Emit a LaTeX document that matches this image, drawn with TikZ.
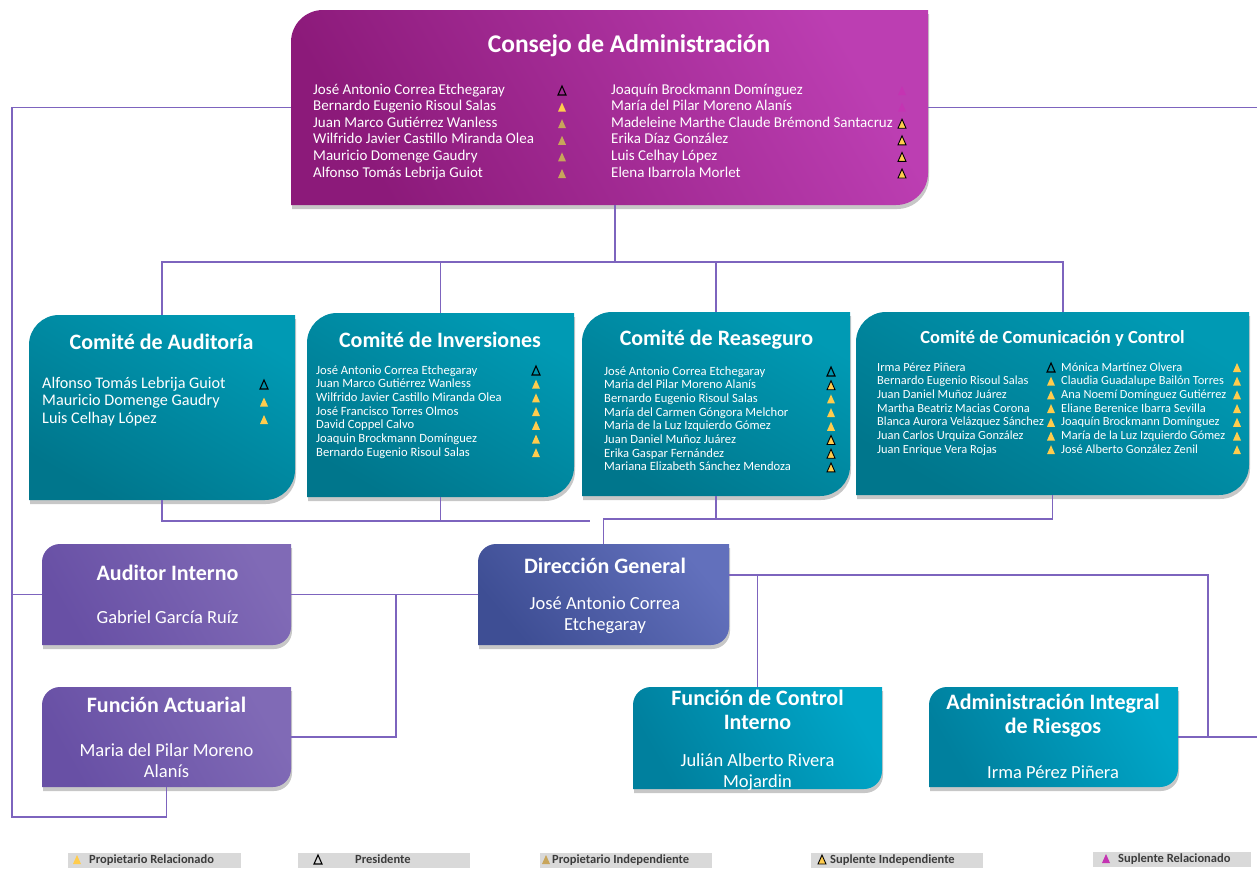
\documentclass[tikz,border=0pt]{standalone}
\usepackage{fontspec}
\setmainfont{Carlito}
\usetikzlibrary{calc}

\definecolor{conDark}{RGB}{140,26,122}
\definecolor{conLight}{RGB}{188,62,178}
\definecolor{tealDark}{RGB}{0,118,140}
\definecolor{tealLight}{RGB}{0,154,180}
\definecolor{violDark}{RGB}{104,80,165}
\definecolor{violLight}{RGB}{128,106,182}
\definecolor{blueDark}{RGB}{62,78,148}
\definecolor{blueLight}{RGB}{98,112,188}
\definecolor{cyanDark}{RGB}{0,128,158}
\definecolor{cyanLight}{RGB}{0,166,200}
\definecolor{linePurple}{RGB}{125,100,190}
\definecolor{legGrey}{RGB}{217,217,217}
\definecolor{legText}{RGB}{60,60,60}
\definecolor{mkYellow}{RGB}{255,204,77}
\definecolor{mkGold}{RGB}{200,165,90}
\definecolor{mkMagenta}{RGB}{196,52,178}

\tikzset{
  boxframe/.style={anchor=north west, inner sep=0pt, outer sep=0pt},
  conn/.style={draw=linePurple, line width=1.6pt},
  boxtitle/.style={text=white, font=\bfseries\fontsize{22}{24}\selectfont, align=center, inner sep=0pt},
  boxname/.style={text=white, font=\fontsize{18.5}{21.5}\selectfont, align=center, inner sep=0pt},
  memtext/.style={text=white, anchor=west, inner sep=0pt, text height=0.8em, text depth=0.2em,
    font=\fontsize{12.6}{14}\selectfont},
  legbox/.style={anchor=west, fill=legGrey, minimum height=15, inner sep=0pt},
  legtext/.style={anchor=west, text=legText, inner sep=0pt, text height=0.8em, text depth=0.2em,
    font=\bfseries\fontsize{12.5}{13}\selectfont},
  % shadings
  conshade/.style={top color=conLight, bottom color=conDark, shading angle=-60},
  tealshade/.style={top color=tealLight, bottom color=tealDark, shading angle=-30},
  violshade/.style={top color=violLight, bottom color=violDark, shading angle=-60},
  blueshade/.style={top color=blueLight, bottom color=blueDark, shading angle=-50},
  cyanshade/.style={top color=cyanLight, bottom color=cyanDark, shading angle=-60},
  % markers
  mkpres/.style={draw=black, line width=1.1pt},
  mkpropr/.style={fill=mkYellow},
  mkpropi/.style={fill=mkGold},
  mksupi/.style={fill=mkYellow, draw=black, line width=.9pt},
  mksupr/.style={fill=mkMagenta}
}

% box with round top-left and bottom-right corners, plus a drop shadow
\newcommand\boxshape[3]{%
  \fill[black, opacity=.22] [rounded corners=#3]
    ([shift={(1pt,-4pt)}]#1.south west) rectangle ([shift={(1pt,-4pt)}]#1.north east)
    [sharp corners] ([shift={(1pt,-4pt)}]#1.north east) rectangle ([shift={(1pt-#3,-4pt-#3)}]#1.north east)
    ([shift={(1pt+#3,-4pt+#3)}]#1.south west) rectangle ([shift={(1pt,-4pt)}]#1.south west);
  \shade[#2] [rounded corners=#3] (#1.south west) rectangle (#1.north east)
    [sharp corners] (#1.north east) rectangle ([shift={(-#3,-#3)}]#1.north east)
    ([shift={(#3,#3)}]#1.south west) rectangle (#1.south west);
}
% small triangle marker
\newcommand\tri[3]{\path[#1] ({#2},{#3}) ++(-4,4) -- ++(8,0) -- ++(-4,-9) -- cycle;}

\begin{document}
\begin{tikzpicture}[x=1pt, y=-1pt]
\useasboundingbox (0,0) rectangle (1257,870);

% frames
\node[boxframe, minimum width=637, minimum height=195] (consejo) at (291,10) {};
\node[boxframe, minimum width=266, minimum height=185] (auditoria) at (29,315) {};
\node[boxframe, minimum width=267, minimum height=184] (inversion) at (307,313) {};
\node[boxframe, minimum width=268, minimum height=184] (reaseguro) at (582,312) {};
\node[boxframe, minimum width=393, minimum height=183] (comunic) at (856,312) {};
\node[boxframe, minimum width=249, minimum height=101] (auditor) at (42,544) {};
\node[boxframe, minimum width=249, minimum height=100] (actuarial) at (42,687) {};
\node[boxframe, minimum width=251, minimum height=101] (direccion) at (478,544) {};
\node[boxframe, minimum width=249, minimum height=102] (control) at (633,687) {};
\node[boxframe, minimum width=249, minimum height=100] (riesgos) at (929,687) {};

\boxshape{consejo}{conshade}{32pt}
\boxshape{auditoria}{tealshade}{30pt}
\boxshape{inversion}{tealshade}{30pt}
\boxshape{reaseguro}{tealshade}{30pt}
\boxshape{comunic}{tealshade}{30pt}
\boxshape{auditor}{violshade}{18pt}
\boxshape{actuarial}{violshade}{18pt}
\boxshape{direccion}{blueshade}{18pt}
\boxshape{control}{cyanshade}{18pt}
\boxshape{riesgos}{cyanshade}{18pt}

% connectors
\draw[conn] ([xshift=5.5pt]consejo.south) -- ++(0,57) coordinate (hub);
\draw[conn] (auditoria.north) |- ([xshift=10.5pt]comunic.north |- hub) -- ([xshift=10.5pt]comunic.north);
\draw[conn] (inversion.north) -- (inversion.north |- hub);
\draw[conn] (reaseguro.north) -- (reaseguro.north |- hub);
\coordinate (gapl) at (590,521);
\draw[conn] (auditoria.south) |- (gapl);
\draw[conn] (inversion.south) -- (inversion.south |- gapl);
\draw[conn] (direccion.north) -- ++(0,-25) coordinate (hubr) -| (comunic.south);
\draw[conn] (reaseguro.south) -- (reaseguro.south |- hubr);
\coordinate (lrail) at (12,817);
\coordinate (rexit) at (1257,107.5);
\draw[conn] (consejo.west) -| (lrail) -| (actuarial.south);
\draw[conn] (consejo.east) -- (rexit);
\draw[conn] (auditor.west) -- (auditor.west -| lrail);
\draw[conn] (auditor.east) -- (direccion.west);
\draw[conn] (actuarial.east) -| ([xshift=105pt]auditor.east);
\coordinate (rexit2) at (1257,737);
\draw[conn] ([yshift=19.5pt]direccion.east) coordinate (dgr) -| ([xshift=30pt]riesgos.east) -- (rexit2);
\draw[conn] (riesgos.east) -- ([xshift=30pt]riesgos.east);
\draw[conn] (control.north) -- (control.north |- dgr);

% titles
\node[boxtitle, font=\bfseries\fontsize{25.5}{28}\selectfont] (consejo-t) at (629,46) {Consejo de Administración};
\node[boxtitle] (auditoria-t) at (161.5,342) {Comité de Auditoría};
\node[boxtitle] (inversion-t) at (440,340) {Comité de Inversiones};
\node[boxtitle] (reaseguro-t) at (716.5,340) {Comité de Reaseguro};
\node[boxtitle, font=\bfseries\fontsize{18.5}{20}\selectfont] (comunic-t) at (1052.5,338) {Comité de Comunicación y Control};
\node[boxtitle] (auditor-t) at (167.5,573) {Auditor Interno};
\node[boxname] (auditor-n) at (167.5,617) {Gabriel García Ruíz};
\node[boxtitle] (actuarial-t) at (166.5,705) {Función Actuarial};
\node[boxname] (actuarial-n) at (166.5,760.5) {Maria del Pilar Moreno\\Alanís};
\node[boxtitle] (direccion-t) at (605,566) {Dirección General};
\node[boxname] (direccion-n) at (605,615) {José Antonio Correa\\Etchegaray};
\node[boxtitle] (control-t) at (757.5,710) {Función de Control\\Interno};
\node[boxname] (control-n) at (757.5,772) {Julián Alberto Rivera\\Mojardin};
\node[boxtitle] (riesgos-t) at (1053,716) {Administración Integral\\de Riesgos};
\node[boxname] (riesgos-n) at (1053,772) {Irma Pérez Piñera};

% members
\foreach \nm/\mk [count=\i] in {José Antonio Correa Etchegaray/mkpres,
  Bernardo Eugenio Risoul Salas/mkpropr, Juan Marco Gutiérrez Wanless/mkpropi,
  Wilfrido Javier Castillo Miranda Olea/mkpropi, Mauricio Domenge Gaudry/mkpropi,
  Alfonso Tomás Lebrija Guiot/mkpropi}
{\node[memtext, font=\fontsize{15}{16}\selectfont] (consejo-a\i) at (313,{91+16.6*(\i-1)}) {\nm};
 \tri{\mk}{562}{91+16.6*(\i-1)}}
\foreach \nm/\mk [count=\i] in {Joaquín Brockmann Domínguez/mksupr,
  María del Pilar Moreno Alanís/mksupr, Madeleine Marthe Claude Brémond Santacruz/mksupi,
  Erika Díaz González/mksupi, Luis Celhay López/mksupi, Elena Ibarrola Morlet/mksupi}
{\node[memtext, font=\fontsize{15}{16}\selectfont] (consejo-b\i) at (611,{91+16.6*(\i-1)}) {\nm};
 \tri{\mk}{902}{91+16.6*(\i-1)}}
\foreach \nm/\mk [count=\i] in {Alfonso Tomás Lebrija Guiot/mkpres,
  Mauricio Domenge Gaudry/mkpropr, Luis Celhay López/mkpropr}
{\node[memtext, font=\fontsize{16.2}{17}\selectfont] (auditoria-\i) at (42,{385+17.5*(\i-1)}) {\nm};
 \tri{\mk}{264}{385+17.5*(\i-1)}}
\foreach \nm/\mk [count=\i] in {José Antonio Correa Etchegaray/mkpres,
  Juan Marco Gutiérrez Wanless/mkpropr, Wilfrido Javier Castillo Miranda Olea/mkpropr,
  José Francisco Torres Olmos/mkpropr, David Coppel Calvo/mkpropr,
  Joaquin Brockmann Domínguez/mkpropr, Bernardo Eugenio Risoul Salas/mkpropr}
{\node[memtext] (inversion-\i) at (316,{371+13.7*(\i-1)}) {\nm};
 \tri{\mk}{536}{371+13.7*(\i-1)}}
\foreach \nm/\mk [count=\i] in {José Antonio Correa Etchegaray/mkpres,
  Maria del Pilar Moreno Alanís/mksupi, Bernardo Eugenio Risoul Salas/mkpropr,
  María del Carmen Góngora Melchor/mkpropr, Maria de la Luz Izquierdo Gómez/mkpropr,
  Juan Daniel Muñoz Juárez/mksupi, Erika Gaspar Fernández/mksupi,
  Mariana Elizabeth Sánchez Mendoza/mksupi}
{\node[memtext] (reaseguro-\i) at (604,{372+13.7*(\i-1)}) {\nm};
 \tri{\mk}{831}{372+13.7*(\i-1)}}
\foreach \nm/\mk [count=\i] in {Irma Pérez Piñera/mkpres,
  Bernardo Eugenio Risoul Salas/mkpropr, Juan Daniel Muñoz Juárez/mkpropr,
  Martha Beatriz Macias Corona/mkpropr, Blanca Aurora Velázquez Sánchez/mkpropr,
  Juan Carlos Urquiza González/mkpropr, Juan Enrique Vera Rojas/mkpropr}
{\node[memtext, font=\fontsize{12.4}{13}\selectfont] (comunic-a\i) at (877,{368+13.7*(\i-1)}) {\nm};
 \tri{\mk}{1051}{368+13.7*(\i-1)}}
\foreach \nm/\mk [count=\i] in {Mónica Martínez Olvera/mkpropr,
  Claudia Guadalupe Bailón Torres/mkpropr, Ana Noemí Domínguez Gutiérrez/mkpropr,
  Eliane Berenice Ibarra Sevilla/mkpropr, Joaquín Brockmann Domínguez/mkpropr,
  María de la Luz Izquierdo Gómez/mkpropr, José Alberto González Zenil/mkpropr}
{\node[memtext, font=\fontsize{12.4}{13}\selectfont] (comunic-b\i) at (1061,{368+13.7*(\i-1)}) {\nm};
 \tri{\mk}{1237}{368+13.7*(\i-1)}}

% legend
\node[legbox, minimum width=173] (leg1) at (68,860) {};
\tri{mkpropr}{77}{860}
\node[legtext] (leg1-t) at (89,860) {Propietario Relacionado};
\node[legbox, minimum width=172] (leg2) at (298,860) {};
\tri{mkpres}{318}{860}
\node[legtext] (leg2-t) at (355,860) {Presidente};
\node[legbox, minimum width=172] (leg3) at (540,860) {};
\tri{mkpropi}{546}{860}
\node[legtext] (leg3-t) at (552,860) {Propietario Independiente};
\node[legbox, minimum width=172] (leg4) at (811,860) {};
\tri{mksupi}{822}{860}
\node[legtext] (leg4-t) at (830,860) {Suplente Independiente};
\node[legbox, minimum width=158] (leg5) at (1093,859) {};
\tri{mksupr}{1106}{859}
\node[legtext] (leg5-t) at (1118,859) {Suplente Relacionado};
\end{tikzpicture}
\end{document}
